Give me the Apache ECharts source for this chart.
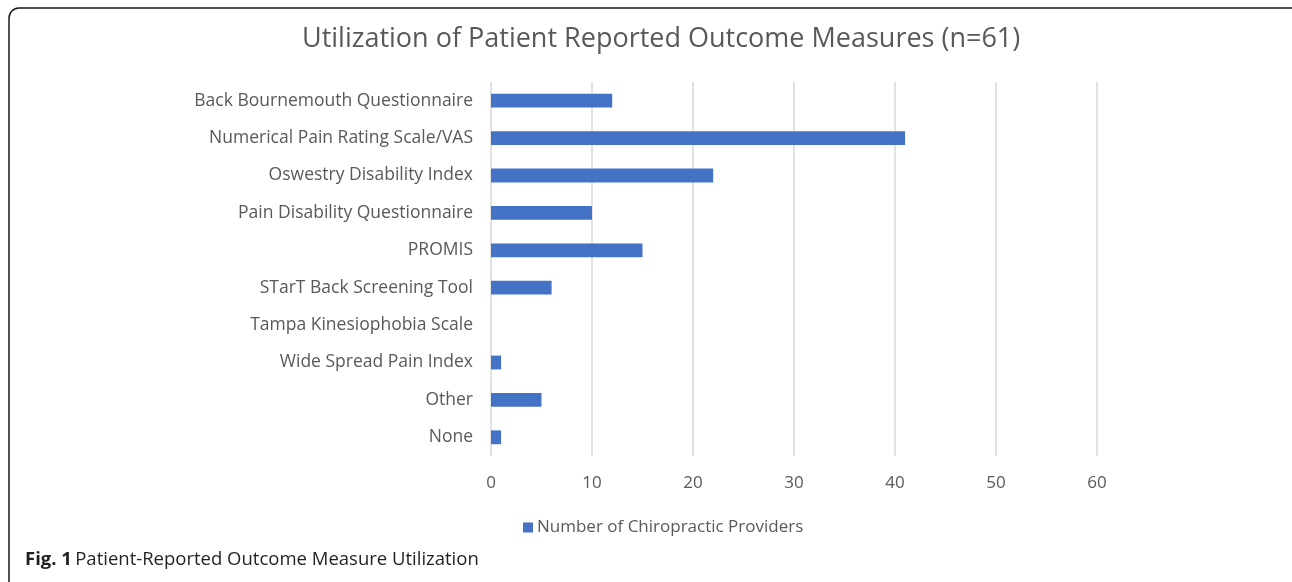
<!DOCTYPE html>
<html>
<head>
<meta charset="utf-8">
<script src="https://cdn.jsdelivr.net/npm/echarts@6/dist/echarts.min.js"></script>
<style>
  html, body { margin: 0; padding: 0; background: #fff; }
  #chart { width: 1292px; height: 582px; }
</style>
</head>
<body>
<div id="chart"></div>
<script>
// Categories top-to-bottom as printed, and the provider counts
const categories = [
  'Back Bournemouth Questionnaire',
  'Numerical Pain Rating Scale/VAS',
  'Oswestry Disability Index',
  'Pain Disability Questionnaire',
  'PROMIS',
  'STarT Back Screening Tool',
  'Tampa Kinesiophobia Scale',
  'Wide Spread Pain Index',
  'Other',
  'None'
];
const providers = [12, 41, 22, 10, 15, 6, 0, 1, 5, 1];
const xTicks = [0, 10, 20, 30, 40, 50, 60];

const FONT = '"Open Sans", "Noto Sans", sans-serif';
const GREY = '#595959';

const chart = echarts.init(document.getElementById('chart'), null, { renderer: 'canvas' });
chart.setOption({
  animation: false,
  textStyle: { fontFamily: FONT },
  title: {
    text: 'Utilization of Patient Reported Outcome Measures (n=61)',
    left: 297, top: 21,
    textStyle: { fontFamily: FONT, fontSize: 27, fontWeight: 'normal', color: GREY }
  },
  grid: { left: 491, right: 195, top: 82, bottom: 126, containLabel: false },
  legend: {
    bottom: 41, left: 518,
    itemWidth: 10, itemHeight: 10, itemGap: 6,
    icon: 'rect',
    textStyle: { fontFamily: FONT, fontSize: 17, color: GREY, padding: [0, 0, 0, -1] },
    data: ['Number of Chiropractic Providers']
  },
  xAxis: {
    type: 'value', min: xTicks[0], max: xTicks[xTicks.length - 1], interval: 10,
    axisLine: { show: false }, axisTick: { show: false },
    axisLabel: { fontFamily: FONT, fontSize: 17, color: GREY, margin: 19 },
    splitLine: { lineStyle: { color: '#d9d9d9', width: 1.5 } }
  },
  yAxis: {
    type: 'category', inverse: true, data: categories,
    axisLine: { show: false }, axisTick: { show: false },
    axisLabel: { fontFamily: FONT, fontSize: 17.5, color: GREY, margin: 18 }
  },
  series: [{
    name: 'Number of Chiropractic Providers',
    type: 'bar', data: providers,
    barWidth: '37%',
    itemStyle: { color: '#4472c4' }
  }],
  graphic: [
    {
      type: 'rect', silent: true,
      shape: { x: 9, y: 8, width: 1300, height: 590, r: 10 },
      style: { fill: 'none', stroke: '#1a1a1a', lineWidth: 1.5 }
    },
    {
      type: 'text', left: 25, top: 550,
      style: {
        text: '{b|Fig. 1} {n|Patient-Reported Outcome Measure Utilization}',
        rich: {
          b: { fontFamily: FONT, fontSize: 18.5, fontWeight: 'bold', fill: '#231f20' },
          n: { fontFamily: FONT, fontSize: 18.5, fill: '#231f20' }
        }
      }
    }
  ]
});
</script>
</body>
</html>
